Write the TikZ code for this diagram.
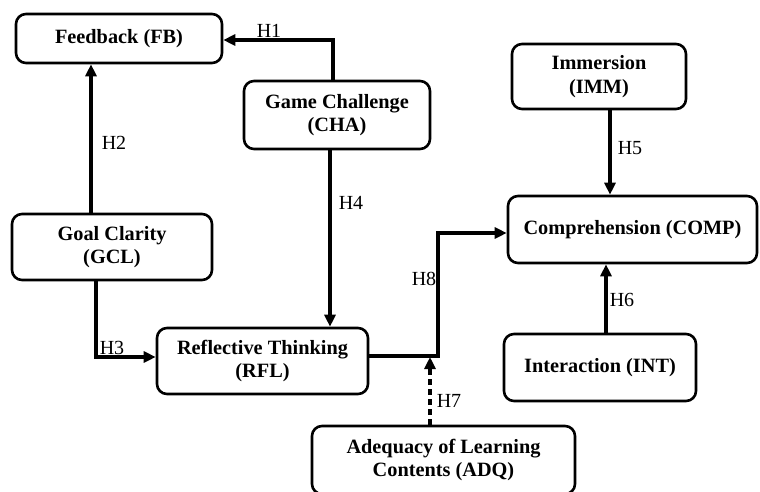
\documentclass[tikz,border=0pt]{standalone}
\usepackage{fontspec}
\setmainfont{Liberation Serif}
\usetikzlibrary{arrows.meta,calc}
\begin{document}
\begin{tikzpicture}[x=1pt,y=-1pt,
  box/.style={draw=black,line width=2.6pt,rounded corners=10pt,inner sep=0pt,
    align=center,font=\fontsize{20.3}{23.5}\selectfont\bfseries},
  arr/.style={line width=3.8pt,-{Triangle[length=12pt,width=11pt]}},
  dasharr/.style={arr,dash pattern=on 6pt off 4pt},
  hlab/.style={font=\fontsize{20}{23}\selectfont,inner sep=0pt}]
\useasboundingbox (0,0) rectangle (760,491);
\node[box,minimum width=206pt,minimum height=49pt] (FB) at (119,38.5) {Feedback (FB)};
\node[box,minimum width=186pt,minimum height=68pt] (CHA) at (337,115) {Game Challenge\\(CHA)};
\node[box,minimum width=200pt,minimum height=66pt] (GCL) at (112,247) {Goal Clarity\\(GCL)};
\node[box,minimum width=211pt,minimum height=66pt] (RFL) at (262.5,361) {Reflective Thinking\\(RFL)};
\node[box,minimum width=249pt,minimum height=67pt] (COMP) at (632.5,229.5) {Comprehension (COMP)};
\node[box,minimum width=174pt,minimum height=65pt] (IMM) at (599,76.5) {Immersion\\(IMM)};
\node[box,minimum width=192pt,minimum height=67pt] (INT) at (600,367.5) {Interaction (INT)};
\node[box,minimum width=263pt,minimum height=68pt] (ADQ) at (443.5,460) {Adequacy of Learning\\Contents (ADQ)};
\coordinate (j) at (438,356);
\coordinate (j7) at (430,357);
% connectors
\draw[arr] ([xshift=-4pt]CHA.north) |- ([yshift=-1.5pt]FB.east);
\draw[arr] ([xshift=-21pt]GCL.north) -- ([xshift=-21pt]GCL.north |- FB.south);
\draw[arr] ([xshift=-7pt]CHA.south) -- ([xshift=-7pt]CHA.south |- RFL.north);
\draw[arr] ([xshift=-16pt]GCL.south) |- ([yshift=4pt]RFL.west);
\draw[arr] (RFL.east |- j) -- (j) |- ([yshift=-3.5pt]COMP.west);
\draw[dasharr] (ADQ.north -| j7) -- (j7);
\draw[arr] ([xshift=11pt]IMM.south) -- ([xshift=11pt]IMM.south |- COMP.north);
\draw[arr] ([xshift=6pt]INT.north) -- ([xshift=6pt]INT.north |- COMP.south);
% labels
\node[hlab] (h1) at (269,31) {H1};
\node[hlab] (h2) at (114,143) {H2};
\node[hlab] (h3) at (112,348) {H3};
\node[hlab] (h4) at (351,203) {H4};
\node[hlab] (h5) at (630,148) {H5};
\node[hlab] (h6) at (622,300) {H6};
\node[hlab] (h7) at (449,401) {H7};
\node[hlab] (h8) at (424,279) {H8};
\end{tikzpicture}
\end{document}
